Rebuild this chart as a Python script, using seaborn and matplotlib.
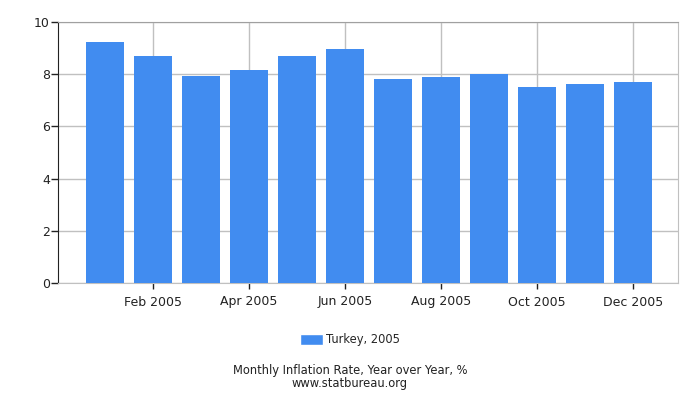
import pandas as pd
import seaborn as sns
import matplotlib.pyplot as plt
from matplotlib.patches import Patch

months = ["Jan 2005", "Feb 2005", "Mar 2005", "Apr 2005", "May 2005", "Jun 2005",
          "Jul 2005", "Aug 2005", "Sep 2005", "Oct 2005", "Nov 2005", "Dec 2005"]
inflation = [9.24, 8.69, 7.94, 8.18, 8.70, 8.95, 7.82, 7.91, 7.99, 7.52, 7.61, 7.72]
series_name = "Turkey, 2005"
y_ticks = [0, 2, 4, 6, 8, 10]

bar_color = "#418CF0"

df = pd.DataFrame({"month": months, "value": inflation})

sns.set_style("white")
plt.rcParams["font.family"] = ["DejaVu Sans"]

fig = plt.figure(figsize=(7, 4), dpi=100)
ax = fig.add_axes([0.083, 0.2925, 0.886, 0.6525])

sns.barplot(data=df, x="month", y="value", order=months, color=bar_color,
            saturation=1, width=0.79, linewidth=0, ax=ax, zorder=3)

ax.set_xlim(-0.98, 11.94)
ax.set_ylim(0, 10)
ax.set_yticks(y_ticks)
ax.set_yticklabels([str(t) for t in y_ticks], fontsize=9, color="#222222")
shown = list(range(1, 12, 2))
ax.set_xticks(shown)
ax.set_xticklabels([months[i] for i in shown], fontsize=9, color="#222222")
ax.set_xlabel("")
ax.set_ylabel("")

ax.grid(True, color="#c0c0c0", linewidth=1, zorder=0)
ax.set_axisbelow(True)
for side in ["top", "right", "bottom"]:
    ax.spines[side].set_color("#c0c0c0")
ax.spines["top"].set_color("#a0a0a0")
ax.spines["left"].set_color("#222222")
ax.tick_params(axis="y", left=True, length=5, width=1, color="#222222", pad=1)
ax.tick_params(axis="x", bottom=True, length=4, width=1, color="#222222", pad=5)

handles = [Patch(facecolor=bar_color, label=series_name)]
fig.legend(handles=handles, loc="center", bbox_to_anchor=(0.5, 0.15), frameon=False,
           fontsize=8.3, handlelength=2.0, handleheight=1.1, handletextpad=0.3)

fig.text(0.5, 0.066, "Monthly Inflation Rate, Year over Year, %", ha="center", fontsize=8.3,
         color="#222222")
fig.text(0.5, 0.033, "www.statbureau.org", ha="center", fontsize=8.3, color="#222222")

fig.savefig("out.png", dpi=100)
